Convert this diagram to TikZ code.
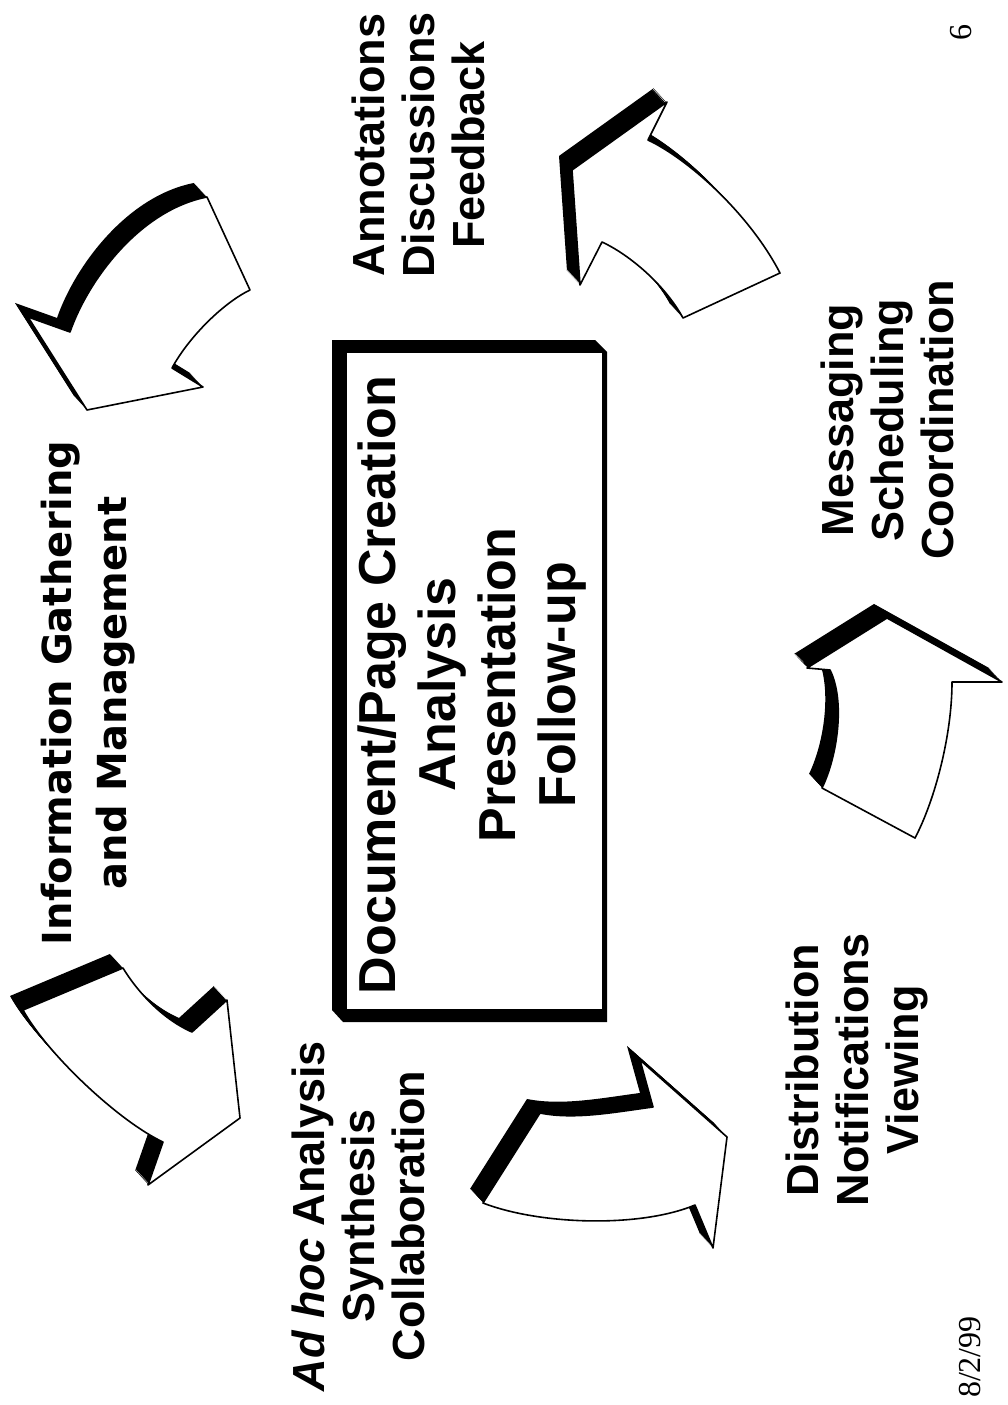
\documentclass[tikz,border=0pt]{standalone}
\usepackage{fontspec}
\setmainfont{Liberation Sans}
\newfontfamily\verd{DejaVu Sans}
\newfontfamily\tms{Liberation Serif}
\begin{document}
\begin{tikzpicture}[x=1pt,y=-1pt,
  face/.style={fill=white,draw=black,line width=1.6pt,line join=round},
  lbl/.style={rotate=90,align=center,font=\bfseries\fontsize{45}{50}\selectfont,inner sep=0pt},
  foot/.style={rotate=90,font=\tms\fontsize{32}{34}\selectfont,inner sep=0pt}]
\useasboundingbox (0,0) rectangle (1008,1405);
\fill[white] (0,0) rectangle (1008,1405);
% arrow faces
\def\pA{(23,1010) -- (123,968) .. controls (135,988) and (160,1018) .. (192,1032) -- (227,1000) -- (240,1118) -- (148,1185) -- (163,1142) .. controls (120,1122) and (48,1055) .. (23,1010) -- cycle}
\def\pB{(207,197) -- (250,290) .. controls (225,302) and (190,335) .. (172,368) -- (203,387) -- (87,410) -- (28,317) -- (70,332) .. controls (88,280) and (140,210) .. (207,197) -- cycle}
\def\pC{(572,170) -- (667,102) -- (648,140) .. controls (690,160) and (750,215) .. (780,273) -- (683,318) .. controls (665,285) and (630,255) .. (602,242) -- (580,285) -- cycle}
\def\pD{(483,1203) -- (540,1113) .. controls (575,1120) and (615,1112) .. (653,1107) -- (640,1060) -- (727,1137) -- (713,1248) -- (695,1205) .. controls (640,1228) and (540,1225) .. (483,1203) -- cycle}
\def\pE{(887,618) -- (1002,682) -- (952,682) .. controls (952,735) and (935,800) .. (915,838) -- (822,788) .. controls (838,755) and (845,700) .. (830,670) -- (807,668) -- cycle}
\foreach \p in {\pA,\pB,\pC,\pD,\pE}{
  \foreach \t in {0,1,...,13}{\fill[black,shift={(-\t,-1.08*\t)}] \p;}
  \filldraw[face] \p;
}
% central box
\fill[black] (332,340) -- (595,340) -- (607,352) -- (607,1022) -- (343,1022) -- (332,1010) -- cycle;
\fill[white] (347,353) rectangle (602,1009);
% texts
\node[lbl,font=\verd\bfseries\fontsize{40}{55}\selectfont] (info) at (88,693) {Information Gathering\\and Management};
\node[lbl,font=\bfseries\fontsize{52}{60}\selectfont] (core) at (472,685) {Document/Page Creation\\Analysis\\Presentation\\Follow-up};
\node[lbl] (adhoc) at (358,1216) {\textit{Ad hoc} Analysis\\Synthesis\\Collaboration};
\node[lbl] (annot) at (418,145) {Annotations\\Discussions\\Feedback};
\node[lbl] (dist) at (857,1070) {Distribution\\Notifications\\Viewing};
\node[lbl] (msg) at (887,420) {Messaging\\Scheduling\\Coordination};
\node[foot] (date) at (970,1357) {8/2/99};
\node[foot] (pg) at (961,33) {6};
\end{tikzpicture}
\end{document}
